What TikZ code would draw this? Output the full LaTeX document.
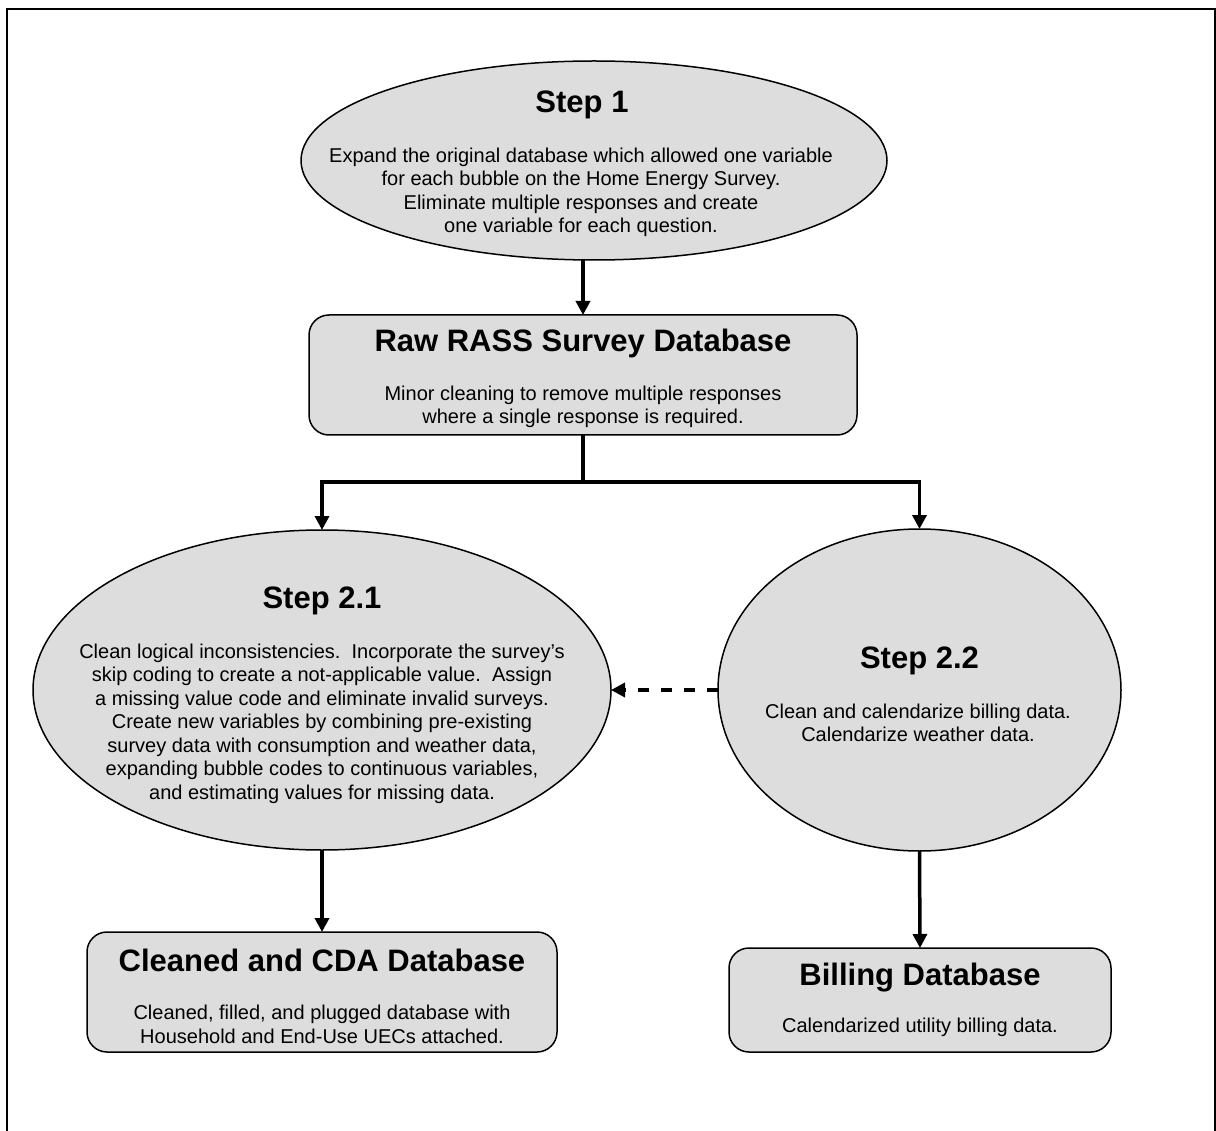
\documentclass[tikz,border=0pt]{standalone}
\usepackage{fontspec}
\setmainfont{Liberation Sans}
\usetikzlibrary{shapes.geometric,arrows.meta}
\definecolor{boxgray}{HTML}{DDDDDD}
\tikzset{
  shapeline/.style={draw=black,line width=1.5pt,fill=boxgray,inner sep=0pt,outer sep=0pt},
  ovalbox/.style={shapeline,ellipse},
  roundbox/.style={shapeline,rectangle,rounded corners=20pt},
  titletext/.style={font=\fontsize{31}{36}\selectfont\bfseries,inner sep=0pt,anchor=base},
  bodytext/.style={font=\fontsize{20}{23.5}\selectfont,align=center,inner sep=0pt,anchor=center},
  arr/.style={line width=3.5pt,-{Triangle[length=14pt,width=14pt]}},
  dasharr/.style={line width=3.5pt,dash pattern=on 11pt off 12pt,-{Triangle[length=14pt,width=14pt]}},
  framestyle/.style={line width=2.5pt}
}
\begin{document}
\begin{tikzpicture}[x=1pt,y=-1pt]
\useasboundingbox (0,0) rectangle (1216,1131);
% page frame (open at bottom)
\draw[framestyle] (7,1140) -- (7,9) -- (1215.5,9) -- (1215.5,1140);

% shapes
\node[ovalbox,minimum width=586pt,minimum height=199pt] (s1) at (594,160.5) {};
\node[roundbox,minimum width=548pt,minimum height=120pt] (raw) at (583,375) {};
\node[ovalbox,minimum width=578pt,minimum height=320pt] (s21) at (322,690) {};
\node[ovalbox,minimum width=403pt,minimum height=322pt] (s22) at (919.5,690) {};
\node[roundbox,minimum width=470pt,minimum height=120pt] (cda) at (322,992) {};
\node[roundbox,minimum width=382pt,minimum height=104pt] (bill) at (920,1000) {};

% texts
\node[titletext] (s1t) at (582,113) {Step 1};
\node[bodytext] (s1b) at (581,192.5) {Expand the original database which allowed one variable\\
for each bubble on the Home Energy Survey.\\
Eliminate multiple responses and create\\
one variable for each question.};

\node[titletext] (rawt) at (583,352) {Raw RASS Survey Database};
\node[bodytext] (rawb) at (583,407) {Minor cleaning to remove multiple responses\\
where a single response is required.};

\node[titletext] (s21t) at (322,608) {Step 2.1};
\node[bodytext] (s21b) at (322,723.5) {Clean logical inconsistencies.\ \ Incorporate the survey’s\\
skip coding to create a not-applicable value.\ \ Assign\\
a missing value code and eliminate invalid surveys.\\
Create new variables by combining pre-existing\\
survey data with consumption and weather data,\\
expanding bubble codes to continuous variables,\\
and estimating values for missing data.};

\node[titletext] (s22t) at (919.5,668) {Step 2.2};
\node[bodytext] (s22b) at (918,723) {Clean and calendarize billing data.\\
Calendarize weather data.};

\node[titletext] (cdat) at (322,971) {Cleaned and CDA Database};
\node[bodytext] (cdab) at (322,1024.5) {Cleaned, filled, and plugged database with\\
Household and End-Use UECs attached.};

\node[titletext] (billt) at (920,985) {Billing Database};
\node[bodytext] (billb) at (920,1027) {Calendarized utility billing data.};

% connectors
\draw[arr] (raw.north |- s1.south) -- (raw.north);
\draw[arr] (raw.south) -- ++(0,47) -| (s21.north);
\draw[arr] (raw.south) -- ++(0,47) -| (s22.north);
\draw[dasharr] (s22.west) -- (s21.east);
\draw[arr] (s21.south) -- (cda.north);
\draw[arr] (s22.south) -- (bill.north);
\end{tikzpicture}
\end{document}
